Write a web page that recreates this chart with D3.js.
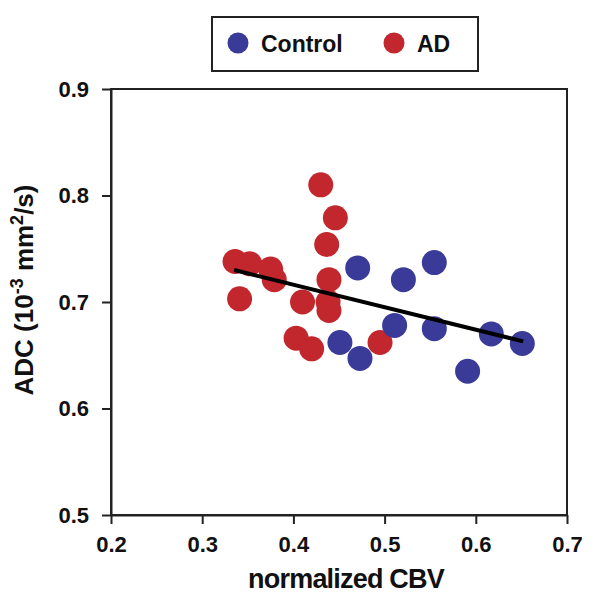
<!DOCTYPE html>
<html>
<head>
<meta charset="utf-8">
<script src="https://cdn.jsdelivr.net/npm/d3@7"></script>
<style>
  html, body { margin: 0; padding: 0; background: #fff; }
  svg { display: block; font-family: "Liberation Sans", Arial, sans-serif; font-weight: bold; }
</style>
</head>
<body>
<div id="chart"></div>
<script>
// values
const controlCBV = [0.4705, 0.451, 0.473, 0.5545, 0.5206, 0.511, 0.5545, 0.617, 0.651, 0.591];
const controlADC = [0.732, 0.662, 0.647, 0.737, 0.721, 0.678, 0.675, 0.670, 0.661, 0.635];
const adCBV = [0.430, 0.446, 0.4365, 0.336, 0.352, 0.375, 0.379, 0.341, 0.410, 0.439, 0.438, 0.439, 0.403, 0.420, 0.495];
const adADC = [0.810, 0.779, 0.754, 0.738, 0.736, 0.731, 0.721, 0.703, 0.700, 0.721, 0.700, 0.692, 0.666, 0.656, 0.662];
const fitLine = [[0.335, 0.730], [0.652, 0.663]];
const xTicks = [0.2, 0.3, 0.4, 0.5, 0.6, 0.7];
const yTicks = [0.5, 0.6, 0.7, 0.8, 0.9];
const groups = ['Control', 'AD'];

const width = 600, height = 599;
const colors = {Control: '#3a3a98', AD: '#c1272d'};
const axisColor = '#222';
const r = 12.5;

const svg = d3.select('#chart').append('svg')
  .attr('width', width)
  .attr('height', height);

const x = d3.scaleLinear().domain([0.2, 0.7]).range([111, 567]);
const y = d3.scaleLinear().domain([0.5, 0.9]).range([515, 89]);

// frame (top and right edges)
svg.append('rect')
  .attr('x', x(0.2)).attr('y', y(0.9))
  .attr('width', x(0.7) - x(0.2)).attr('height', y(0.5) - y(0.9))
  .attr('fill', 'none').attr('stroke', axisColor).attr('stroke-width', 2);

const xAxis = svg.append('g')
  .attr('transform', `translate(0,${y(0.5)})`)
  .call(d3.axisBottom(x).tickValues(xTicks).tickFormat(d3.format('.1f'))
    .tickSize(9).tickSizeOuter(0).tickPadding(12));

const yAxis = svg.append('g')
  .attr('transform', `translate(${x(0.2)},0)`)
  .call(d3.axisLeft(y).tickValues(yTicks).tickFormat(d3.format('.1f'))
    .tickSize(9).tickSizeOuter(0).tickPadding(13));

[xAxis, yAxis].forEach(g => {
  g.select('.domain').attr('stroke', axisColor).attr('stroke-width', 2);
  g.selectAll('.tick line').attr('stroke', axisColor).attr('stroke-width', 2);
  g.selectAll('.tick text')
    .attr('fill', '#111')
    .style('font-size', '22px')
    .style('font-weight', 'bold')
    .style('font-family', '"Liberation Sans", Arial, sans-serif');
});

// points: AD first, control on top
const adPts = adCBV.map((v, i) => ({cbv: v, adc: adADC[i], g: 'AD'}));
const ctlPts = controlCBV.map((v, i) => ({cbv: v, adc: controlADC[i], g: 'Control'}));

svg.append('g').selectAll('circle')
  .data(adPts.concat(ctlPts))
  .join('circle')
  .attr('cx', d => x(d.cbv))
  .attr('cy', d => y(d.adc))
  .attr('r', r)
  .attr('fill', d => colors[d.g]);

// regression line
svg.append('path')
  .datum(fitLine)
  .attr('d', d3.line().x(d => x(d[0])).y(d => y(d[1])))
  .attr('stroke', '#000')
  .attr('stroke-width', 4)
  .attr('fill', 'none');

// axis titles
svg.append('text')
  .attr('x', 346).attr('y', 588)
  .attr('text-anchor', 'middle')
  .style('font-size', '27px')
  .style('letter-spacing', '-0.8px')
  .attr('fill', '#111')
  .text('normalized CBV');

const yTitle = svg.append('text')
  .attr('transform', 'translate(33,290) rotate(-90)')
  .attr('text-anchor', 'middle')
  .style('font-size', '26px')
  .attr('fill', '#111');
yTitle.append('tspan').text('ADC (10');
yTitle.append('tspan').attr('dy', -10).style('font-size', '18px').text('-3');
yTitle.append('tspan').attr('dy', 10).text(' mm');
yTitle.append('tspan').attr('dy', -10).style('font-size', '18px').text('2');
yTitle.append('tspan').attr('dy', 10).text('/s)');

// legend
const legend = svg.append('g');
legend.append('rect')
  .attr('x', 212).attr('y', 17)
  .attr('width', 266).attr('height', 54)
  .attr('fill', '#fff').attr('stroke', axisColor).attr('stroke-width', 2);

const legendX = [238, 394];
const items = legend.selectAll('g.item')
  .data(groups)
  .join('g')
  .attr('class', 'item')
  .attr('transform', (d, i) => `translate(${legendX[i]},43)`);
items.append('circle').attr('r', 10.5).attr('fill', d => colors[d]);
items.append('text')
  .attr('x', 23).attr('y', 8.5)
  .style('font-size', '23px')
  .attr('fill', '#111')
  .text(d => d);
</script>
</body>
</html>
